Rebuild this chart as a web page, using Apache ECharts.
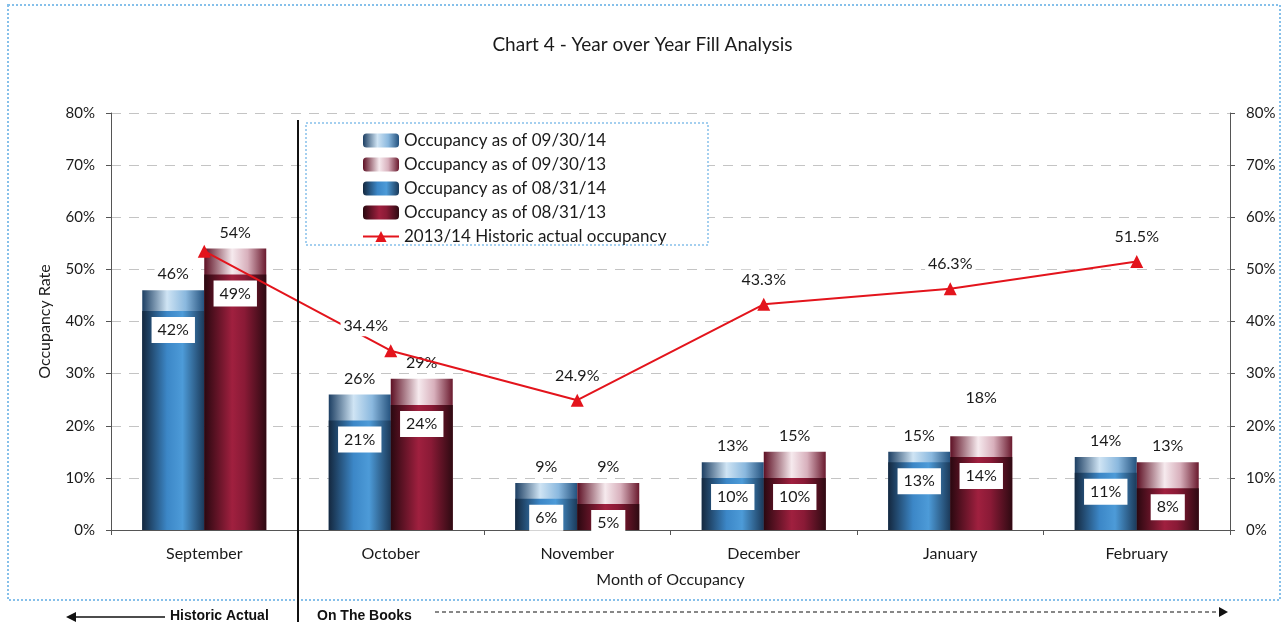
<!DOCTYPE html>
<html>
<head>
<meta charset="utf-8">
<title>Chart 4 - Year over Year Fill Analysis</title>
<script src="https://cdn.jsdelivr.net/npm/echarts@6/dist/echarts.min.js"></script>
<style>
    html, body { margin: 0; padding: 0; background: #fff; }
    #chart { width: 1285px; height: 626px; }
</style>
</head>
<body>
<div id="chart"></div>
<script>
// 数据
var months = ['September', 'October', 'November', 'December', 'January', 'February'];
var occ093014 = [46, 26, 9, 13, 15, 14];
var occ093013 = [54, 29, 9, 15, 18, 13];
var occ083114 = [42, 21, 6, 10, 13, 11];
var occ083113 = [49, 24, 5, 10, 14, 8];
var historic = [53.5, 34.4, 24.9, 43.3, 46.3, 51.5];
var yTicks = [0, 10, 20, 30, 40, 50, 60, 70, 80];

var font = 'Lato, "Open Sans", sans-serif';
var txt = '#1a1a1a';

function grad(stops) {
    return new echarts.graphic.LinearGradient(0, 0, 1, 0, stops.map(function (s) {
        return { offset: s[0], color: s[1] };
    }));
}

var blueBack = grad([[0, '#1d3f63'], [0.4, '#cfe4f4'], [0.7, '#8ab8de'], [1, '#24527e']]);
var redBack = grad([[0, '#5e1024'], [0.45, '#f6eaee'], [0.7, '#d8b0bc'], [1, '#6a1a2e']]);
var blueFront = grad([[0, '#14283f'], [0.4, '#3c87c7'], [0.65, '#4d9bd8'], [1, '#1b3a5a']]);
var redFront = grad([[0, '#2a0810'], [0.45, '#a0203f'], [0.65, '#8a1a36'], [1, '#2e0a12']]);

var topLabel = {
    show: true,
    position: 'top',
    distance: 6,
    formatter: '{c}%',
    fontFamily: font,
    fontSize: 16,
    color: txt,
    backgroundColor: '#fff',
    padding: [2, 3]
};
var boxLabel = {
    show: true,
    position: 'insideTop',
    distance: 6,
    formatter: '{c}%',
    fontFamily: font,
    fontSize: 16,
    color: txt,
    backgroundColor: '#fff',
    padding: [5, 6]
};

// 09/30/13 series, January label sits higher
var red0930Data = occ093013.map(function (v, i) {
    if (i === 4) return { value: v, label: { offset: [0, -22] } };
    return v;
});
// historic line, no label on September, October label shifted left
var histData = historic.map(function (v, i) {
    if (i === 0) return { value: v, label: { show: false } };
    if (i === 1) return { value: v, label: { offset: [-25, 0] } };
    return v;
});

var myChart = echarts.init(document.getElementById('chart'));
var option = {
    backgroundColor: '#fff',
    animation: false,
    title: {
        text: 'Chart 4 - Year over Year Fill Analysis',
        left: 'center',
        top: 30,
        textStyle: { fontFamily: font, fontSize: 19, fontWeight: 'normal', color: txt }
    },
    grid: { left: 111, right: 55, top: 113, bottom: 96 },
    legend: {
        orient: 'vertical',
        left: 357,
        top: 127,
        itemWidth: 36,
        itemHeight: 14,
        itemGap: 7,
        z: 6,
        textStyle: { fontFamily: font, fontSize: 17, color: txt, lineHeight: 17 },
        data: ['Occupancy as of 09/30/14', 'Occupancy as of 09/30/13', 'Occupancy as of 08/31/14',
            'Occupancy as of 08/31/13', '2013/14 Historic actual occupancy']
    },
    xAxis: [
        {
            type: 'category',
            data: months,
            name: 'Month of Occupancy',
            nameLocation: 'middle',
            nameGap: 42,
            nameTextStyle: { fontFamily: font, fontSize: 16, color: txt },
            axisLine: { lineStyle: { color: '#555' } },
            axisTick: { show: true, lineStyle: { color: '#555' } },
            axisLabel: { fontFamily: font, fontSize: 16, color: txt, margin: 16 }
        },
        {
            type: 'category',
            data: months,
            position: 'top',
            axisLine: { show: true, lineStyle: { color: '#555' } },
            axisTick: { show: false },
            axisLabel: { show: false }
        }
    ],
    yAxis: [
        {
            type: 'value',
            min: yTicks[0],
            max: yTicks[yTicks.length - 1],
            interval: 10,
            name: 'Occupancy Rate',
            nameLocation: 'middle',
            nameGap: 58,
            nameTextStyle: { fontFamily: font, fontSize: 16, color: txt },
            axisLine: { show: true, lineStyle: { color: '#555' } },
            axisTick: { show: true, lineStyle: { color: '#555' } },
            axisLabel: { fontFamily: font, fontSize: 15, color: txt, margin: 16, formatter: '{value}%' },
            splitLine: { lineStyle: { color: '#c4c4c4', type: [10, 8] } }
        },
        {
            type: 'value',
            min: yTicks[0],
            max: yTicks[yTicks.length - 1],
            interval: 10,
            position: 'right',
            axisLine: { show: true, lineStyle: { color: '#555' } },
            axisTick: { show: true, lineStyle: { color: '#555' } },
            axisLabel: { fontFamily: font, fontSize: 15, color: txt, margin: 16, formatter: '{value}%' },
            splitLine: { show: false }
        }
    ],
    series: [
        {
            name: 'Occupancy as of 09/30/14',
            type: 'bar',
            xAxisIndex: 0,
            barWidth: 62,
            barGap: 0,
            itemStyle: { color: blueBack },
            label: topLabel,
            data: occ093014
        },
        {
            name: 'Occupancy as of 09/30/13',
            type: 'bar',
            xAxisIndex: 0,
            barWidth: 62,
            barGap: 0,
            itemStyle: { color: redBack },
            label: topLabel,
            data: red0930Data
        },
        {
            name: 'Occupancy as of 08/31/14',
            type: 'bar',
            xAxisIndex: 1,
            barWidth: 62,
            barGap: 0,
            z: 3,
            itemStyle: { color: blueFront },
            label: boxLabel,
            data: occ083114
        },
        {
            name: 'Occupancy as of 08/31/13',
            type: 'bar',
            xAxisIndex: 1,
            barWidth: 62,
            barGap: 0,
            z: 3,
            itemStyle: { color: redFront },
            label: boxLabel,
            data: occ083113
        },
        {
            name: '2013/14 Historic actual occupancy',
            type: 'line',
            xAxisIndex: 0,
            z: 5,
            symbol: 'triangle',
            symbolSize: 13,
            lineStyle: { color: '#e3141c', width: 2 },
            itemStyle: { color: '#e3141c' },
            label: {
                show: true,
                position: 'top',
                distance: 8,
                formatter: function (p) { return p.value.toFixed(1) + '%'; },
                fontFamily: font,
                fontSize: 16,
                color: txt,
                backgroundColor: '#fff',
                padding: [2, 3]
            },
            data: histData
        }
    ],
    graphic: [
        // 外框
        {
            type: 'rect',
            shape: { x: 8, y: 5, width: 1272, height: 595 },
            style: { fill: 'none', stroke: '#86c0ea', lineWidth: 2, lineDash: [2, 2] }
        },
        // 图例框
        {
            type: 'rect',
            z: 4,
            shape: { x: 306, y: 123, width: 402, height: 122 },
            style: { fill: '#fff', stroke: '#86c0ea', lineWidth: 1.5, lineDash: [2, 2] }
        },
        // 分隔线
        {
            type: 'line',
            z: 10,
            shape: { x1: 298, y1: 120, x2: 298, y2: 622 },
            style: { stroke: '#111', lineWidth: 2 }
        },
        // 底部注释
        {
            type: 'line',
            shape: { x1: 74, y1: 617, x2: 165, y2: 617 },
            style: { stroke: '#111', lineWidth: 1.5 }
        },
        {
            type: 'polygon',
            shape: { points: [[66, 617], [76, 612], [76, 622]] },
            style: { fill: '#111' }
        },
        {
            type: 'text',
            left: 170,
            top: 609,
            style: { text: 'Historic Actual', font: 'bold 14px "Liberation Sans Narrow", "Liberation Sans", sans-serif', fill: '#111' }
        },
        {
            type: 'text',
            left: 317,
            top: 609,
            style: { text: 'On The Books', font: 'bold 14px "Liberation Sans Narrow", "Liberation Sans", sans-serif', fill: '#111' }
        },
        {
            type: 'line',
            shape: { x1: 435, y1: 612, x2: 1220, y2: 612 },
            style: { stroke: '#111', lineWidth: 1.2, lineDash: [4, 3] }
        },
        {
            type: 'polygon',
            shape: { points: [[1228, 612], [1219, 607], [1219, 617]] },
            style: { fill: '#111' }
        }
    ]
};
myChart.setOption(option);
</script>
</body>
</html>
